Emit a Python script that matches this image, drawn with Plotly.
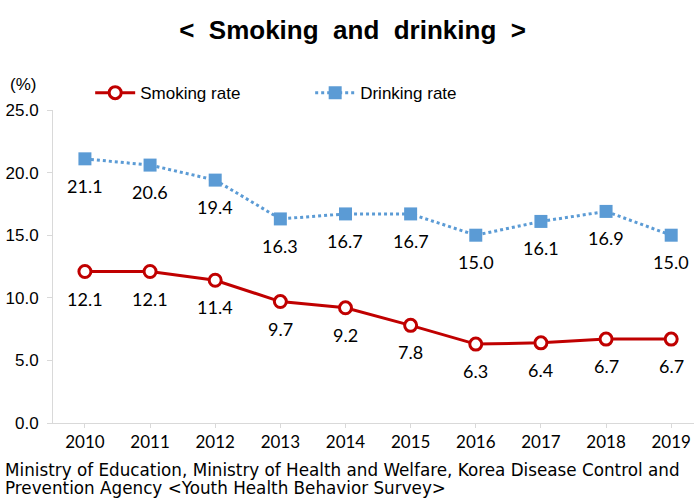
import plotly.graph_objects as go

years = ["2010", "2011", "2012", "2013", "2014", "2015", "2016", "2017", "2018", "2019"]
smoking = [12.1, 12.1, 11.4, 9.7, 9.2, 7.8, 6.3, 6.4, 6.7, 6.7]
drinking = [21.1, 20.6, 19.4, 16.3, 16.7, 16.7, 15.0, 16.1, 16.9, 15.0]
y_ticks = [0, 5, 10, 15, 20, 25]

x_idx = list(range(len(years)))
label_font = dict(family="Lato, Carlito, sans-serif", size=18, color="#000000")
arial = "Liberation Sans, Arial, sans-serif"

fig = go.Figure()
fig.add_trace(go.Scatter(
    x=x_idx, y=smoking, name="Smoking rate",
    mode="lines+markers",
    line=dict(color="#c00000", width=3),
    marker=dict(symbol="circle", size=12, color="#ffffff", line=dict(color="#c00000", width=3)),
))
fig.add_trace(go.Scatter(
    x=x_idx, y=drinking, name="Drinking rate",
    mode="lines+markers",
    line=dict(color="#5b9bd5", width=3, dash="dot"),
    marker=dict(symbol="square", size=13, color="#5b9bd5"),
))

annotations = []
for series in (smoking, drinking):
    for xi, v in zip(x_idx, series):
        annotations.append(dict(x=xi, y=v, xref="x", yref="y", text=f"{v:.1f}",
                                showarrow=False, xanchor="center", yanchor="middle",
                                yshift=-27, font=label_font))

src_font = dict(family="DejaVu Sans, sans-serif", size=16.8, color="#000000")
annotations += [
    dict(text="(%)", xref="paper", yref="paper", x=-0.070, y=1.08, xanchor="left", yanchor="middle",
         showarrow=False, font=dict(family=arial, size=17, color="#000000")),
    dict(text="Ministry of Education, Ministry of Health and Welfare, Korea Disease Control and",
         xref="paper", yref="paper", x=-0.078, y=-0.150, xanchor="left", yanchor="middle",
         showarrow=False, font=src_font),
    dict(text="Prevention Agency &lt;Youth Health Behavior Survey&gt;",
         xref="paper", yref="paper", x=-0.078, y=-0.207, xanchor="left", yanchor="middle",
         showarrow=False, font=src_font),
]

sp = "\u00a0\u00a0"
fig.update_layout(
    width=694, height=501,
    margin=dict(l=53, r=0, t=110, b=78, autoexpand=False),
    paper_bgcolor="white", plot_bgcolor="white",
    title=dict(text=f"<b><{sp}Smoking{sp}and{sp}drinking{sp}></b>", x=0.508, xanchor="center",
               y=0.94, yanchor="middle",
               font=dict(family=arial, size=26, color="#000000")),
    showlegend=True,
    legend=dict(orientation="h", x=0.058, xanchor="left", y=1.054, yanchor="middle",
                font=dict(family=arial, size=17, color="#000000"),
                itemwidth=40, entrywidth=165, tracegroupgap=0, bgcolor="rgba(0,0,0,0)"),
    xaxis=dict(
        tickmode="array", tickvals=x_idx, ticktext=years,
        range=[-0.49, 9.35], showgrid=False, zeroline=False,
        showline=True, linecolor="#d9d9d9", linewidth=1,
        ticks="outside", ticklen=4, tickcolor="#d9d9d9",
        tickfont=dict(family="Lato, Carlito, sans-serif", size=17, color="#000000"),
    ),
    yaxis=dict(
        range=[0, 25], tickvals=y_ticks, ticktext=[f"{v:.1f}" for v in y_ticks],
        showgrid=False, zeroline=False,
        showline=True, linecolor="#d9d9d9", linewidth=1,
        ticks="outside", ticklen=5, tickcolor="#d9d9d9", ticklabelstandoff=5,
        tickfont=dict(family=arial, size=17, color="#000000"),
    ),
    annotations=annotations,
)

fig.write_html("out.html", config={"displayModeBar": False},
               post_script="document.body.style.margin='0';document.body.style.overflow='hidden';")
